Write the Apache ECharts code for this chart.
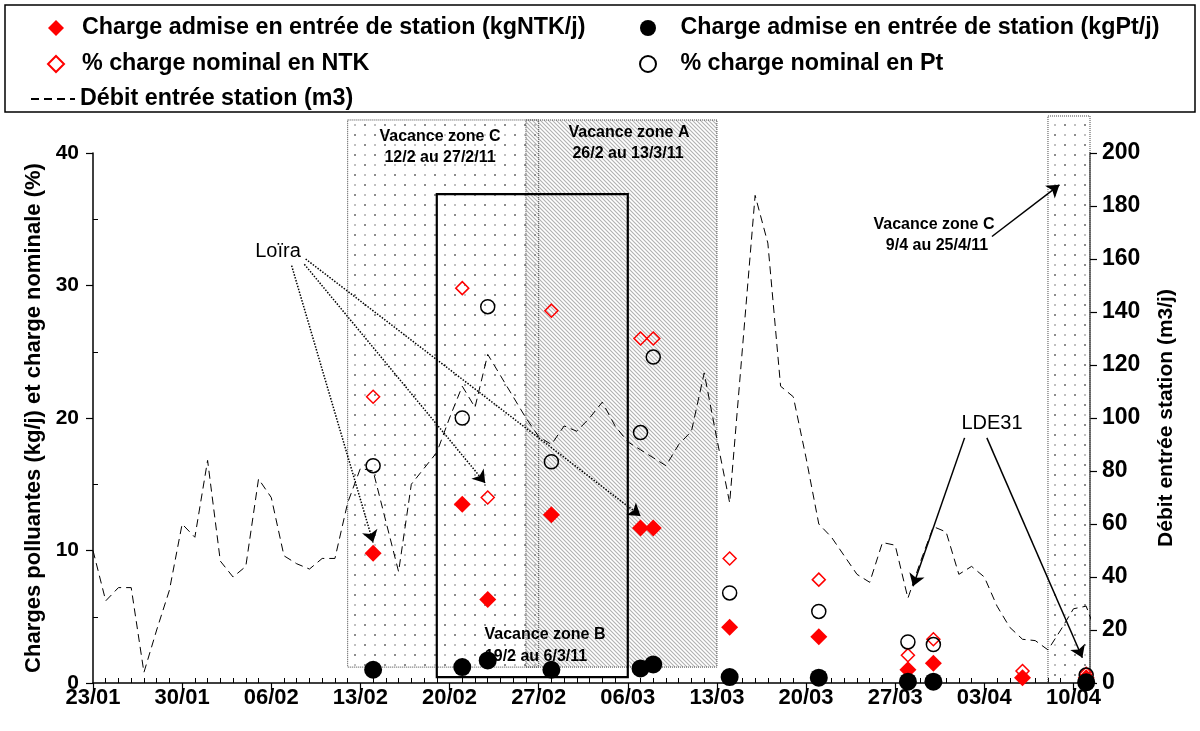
<!DOCTYPE html>
<html>
<head>
<meta charset="utf-8">
<script src="https://cdn.jsdelivr.net/npm/echarts@6/dist/echarts.min.js"></script>
<style>html,body{margin:0;padding:0;background:#fff}#c{width:1200px;height:731px}</style>
</head>
<body>
<div id="c"></div>
<script>
// Days counted from 23/01/2011 (day 0)
const tickLabels = ['23/01','30/01','06/02','13/02','20/02','27/02','06/03','13/03','20/03','27/03','03/04','10/04'];

const ntkDays = [22, 29, 31, 36, 43, 44, 50, 57, 64, 66, 73, 78];
const ntkKg   = [9.8, 13.5, 6.3, 12.7, 11.7, 11.7, 4.2, 3.5, 1.0, 1.5, 0.4, 0.4];
const ntkPct  = [21.6, 29.8, 14.0, 28.1, 26.0, 26.0, 9.4, 7.8, 2.1, 3.3, 0.9, 0.7];

const ptDays = [22, 29, 31, 36, 43, 44, 50, 57, 64, 66, 78];
const ptKg   = [1.0, 1.2, 1.7, 1.0, 1.1, 1.4, 0.45, 0.4, 0.1, 0.1, 0.05];
const ptPct  = [16.4, 20.0, 28.4, 16.7, 18.9, 24.6, 6.8, 5.4, 3.1, 2.9, 0.6];

// Débit entrée station (m3/j), one value per day from day 0
const debit = [50, 31, 36, 36, 4, 20, 35, 60, 55, 84,
               46, 40, 44, 77, 70, 48, 45, 43, 47, 47,
               68, 81, 80, 61, 42, 75, 81, 87, 100, 112,
               104, 124, 116, 108, 100, 93, 90, 97, 95, 100,
               106, 97, 91, 88, 85, 82, 90, 95, 117, 92,
               68, 126, 184, 166, 112, 108, 85, 60, 55, 48,
               41, 38, 53, 52, 32, 46, 59, 57, 41, 44,
               40, 29, 21, 16.5, 16, 12.5, 20, 28, 29, 16];

// Holiday periods [startDay, endDay, bottomValue, topValue] (left axis units)
const zoneC1 = [20, 35, 1.2, 42.5];
const zoneA  = [34, 49, 1.2, 42.5];
const zoneB  = [27, 42, 0.45, 36.9];
const zoneC2 = [75, 78.3, 0, 42.8];

const FONT = 'Liberation Sans, Arial, sans-serif';
const RED = '#ff0000';
const N1 = 'Charge admise en entrée de station (kgNTK/j)';
const N2 = '% charge nominal en NTK';
const N3 = 'Charge admise en entrée de station (kgPt/j)';
const N4 = '% charge nominal en Pt';
const N5 = 'Débit entrée station (m3)';

function dotPattern() {
  const c = document.createElement('canvas'); c.width = 20; c.height = 20;
  const g = c.getContext('2d');
  g.fillStyle = '#8c8c8c'; g.fillRect(4, 4, 2, 2); g.fillRect(14, 14, 2, 2);
  g.fillStyle = '#c0c0c0'; g.fillRect(14, 4, 2, 2); g.fillRect(4, 14, 2, 2);
  return c;
}
function hatchPattern() {
  const c = document.createElement('canvas'); c.width = 4; c.height = 4;
  const g = c.getContext('2d');
  g.strokeStyle = 'rgba(150,150,150,0.75)'; g.lineWidth = 1.1;
  g.beginPath();
  g.moveTo(-1, -1); g.lineTo(5, 5);
  g.moveTo(-1, 3); g.lineTo(1, 5);
  g.moveTo(3, -1); g.lineTo(5, 1);
  g.stroke();
  return c;
}
const dots = { image: dotPattern(), repeat: 'repeat' };
const hatch = { image: hatchPattern(), repeat: 'repeat' };

function area(z, style) {
  return [{ xAxis: z[0], yAxis: z[3], itemStyle: style }, { xAxis: z[1], yAxis: z[2] }];
}
const dottedBorder = { borderColor: '#444', borderWidth: 1, borderType: 'dotted' };
const legendText = { fontSize: 23.3, fontWeight: 'bold', color: '#000', lineHeight: 24, fontFamily: FONT };

const chart = echarts.init(document.getElementById('c'), null, { renderer: 'canvas' });

chart.setOption({
  animation: false,
  textStyle: { fontFamily: FONT },
  grid: [
    { left: 93, right: 110, top: 153, bottom: 48, containLabel: false },
    { left: 93, right: 110, top: 116, bottom: 48, containLabel: false }
  ],
  legend: [
    {
      orient: 'vertical', left: 42, top: 11, itemWidth: 16, itemHeight: 16, itemGap: 12,
      textStyle: legendText, selectedMode: false, formatter: '  {name}',
      data: [N1, N2]
    },
    {
      orient: 'vertical', left: 25, top: 82, itemWidth: 44, itemHeight: 16,
      textStyle: legendText, selectedMode: false,
      data: [{ name: N5, itemStyle: { color: 'rgba(0,0,0,0)', borderWidth: 0, opacity: 0 } }]
    },
    {
      orient: 'vertical', left: 634, top: 11, itemWidth: 16, itemHeight: 16, itemGap: 12,
      textStyle: legendText, selectedMode: false, formatter: '   {name}',
      data: [N3, N4]
    }
  ],
  xAxis: [
    {
      type: 'value', gridIndex: 0, min: 0, max: 78.3, interval: 7,
      axisLine: { lineStyle: { color: '#000', width: 1.5 } },
      axisTick: { length: 7, lineStyle: { color: '#000', width: 1.2 } },
      minorTick: { show: true, splitNumber: 7, length: -5, lineStyle: { color: '#000', width: 1 } },
      splitLine: { show: false },
      axisLabel: {
        showMaxLabel: false, margin: 4, color: '#000', fontSize: 22, fontWeight: 'bold', fontFamily: FONT,
        formatter: function (v) {
          const i = Math.round(v / 7);
          return Math.abs(v - i * 7) < 1e-6 ? (tickLabels[i] || '') : '';
        }
      }
    },
    { type: 'value', gridIndex: 1, min: 0, max: 78.3, show: false }
  ],
  yAxis: [
    {
      type: 'value', gridIndex: 0, min: 0, max: 40, interval: 10, position: 'left',
      name: 'Charges polluantes (kg/j) et charge nominale (%)', nameLocation: 'middle', nameGap: 48,
      nameTextStyle: { fontSize: 22, fontWeight: 'bold', color: '#000', fontFamily: FONT },
      axisLine: { show: true, lineStyle: { color: '#000', width: 1.5 } },
      axisTick: { show: true, length: 7, lineStyle: { color: '#000', width: 1.2 } },
      minorTick: { show: true, splitNumber: 2, length: -5, lineStyle: { color: '#000', width: 1 } },
      splitLine: { show: false },
      axisLabel: { margin: 14, color: '#000', fontSize: 21, fontWeight: 'bold', fontFamily: FONT }
    },
    {
      type: 'value', gridIndex: 0, min: 0, max: 200, interval: 20, position: 'right',
      name: 'Débit entrée station (m3/j)', nameLocation: 'middle', nameGap: 66, nameRotate: 90,
      nameTextStyle: { fontSize: 21, fontWeight: 'bold', color: '#000', fontFamily: FONT },
      axisLine: { show: true, lineStyle: { color: '#808080', width: 2 } },
      axisTick: { show: true, length: 7, lineStyle: { color: '#000', width: 1.2 } },
      splitLine: { show: false },
      axisLabel: { margin: 12, color: '#000', fontSize: 23, fontWeight: 'bold', fontFamily: FONT }
    },
    { type: 'value', gridIndex: 1, min: 0, max: 42.8, show: false }
  ],
  series: [
    {
      name: N5, type: 'line', xAxisIndex: 0, yAxisIndex: 1, z: 2,
      symbol: 'none', showSymbol: false,
      lineStyle: { color: '#000', width: 1, type: [8, 5] },
      itemStyle: { color: '#000' },
      data: debit.map((v, i) => [i, v])
    },
    {
      name: N1, type: 'scatter', z: 3,
      symbol: 'diamond', symbolSize: 17, itemStyle: { color: RED, opacity: 1 },
      data: ntkDays.map((d, i) => [d, ntkKg[i]])
    },
    {
      name: N2, type: 'scatter', z: 3,
      symbol: 'diamond', symbolSize: 13,
      itemStyle: { color: 'rgba(255,255,255,0)', borderColor: RED, borderWidth: 1.5, opacity: 1 },
      data: ntkDays.map((d, i) => [d, ntkPct[i]])
    },
    {
      name: N3, type: 'scatter', z: 3,
      symbol: 'circle', symbolSize: 18, itemStyle: { color: '#000', opacity: 1 },
      data: ptDays.map((d, i) => [d, ptKg[i]])
    },
    {
      name: N4, type: 'scatter', z: 3,
      symbol: 'circle', symbolSize: 14,
      itemStyle: { color: 'rgba(255,255,255,0)', borderColor: '#000', borderWidth: 1.5, opacity: 1 },
      data: ptDays.map((d, i) => [d, ptPct[i]])
    },
    {
      name: 'zones', type: 'scatter', xAxisIndex: 1, yAxisIndex: 2, z: 4, clip: false, silent: true, data: [],
      markArea: {
        silent: true,
        label: { show: false },
        data: [
          area(zoneC1, Object.assign({ color: dots }, dottedBorder)),
          area(zoneA, Object.assign({ color: hatch }, dottedBorder)),
          area(zoneC2, Object.assign({ color: dots }, dottedBorder)),
          area(zoneB, { color: 'rgba(0,0,0,0)', borderColor: '#000', borderWidth: 2.2 })
        ]
      }
    },
    {
      name: 'arrows', type: 'scatter', z: 6, clip: false, silent: true, data: [],
      markLine: {
        silent: true, symbol: ['none', 'arrow'], symbolSize: 12,
        label: { show: false },
        lineStyle: { color: '#000', width: 1.5 },
        itemStyle: { color: '#000' },
        data: [
          [{ coord: [15.6, 31.5], lineStyle: { type: 'dotted', width: 1.5, color: '#000' } }, { coord: [22.0, 10.6] }],
          [{ coord: [16.6, 31.6], lineStyle: { type: 'dotted', width: 1.5, color: '#000' } }, { coord: [30.8, 15.1] }],
          [{ coord: [16.7, 32.0], lineStyle: { type: 'dotted', width: 1.5, color: '#000' } }, { coord: [43.0, 12.6] }],
          [{ coord: [68.45, 18.5], lineStyle: { type: 'solid', width: 1.5, color: '#000' } }, { coord: [64.4, 7.3] }],
          [{ coord: [70.2, 18.5], lineStyle: { type: 'solid', width: 1.5, color: '#000' } }, { coord: [77.7, 1.9] }],
          [{ coord: [70.6, 33.7], lineStyle: { type: 'solid', width: 1.5, color: '#000' } }, { coord: [75.9, 37.6] }]
        ]
      }
    }
  ],
  graphic: [
    { type: 'rect', z: 0, shape: { x: 5, y: 5, width: 1190, height: 107 },
      style: { fill: 'none', stroke: '#000', lineWidth: 1.5 } },
    { type: 'text', z: 10, x: 440, y: 137, style: { text: 'Vacance zone C', font: 'bold 16px ' + FONT, fill: '#000', align: 'center', verticalAlign: 'middle' } },
    { type: 'text', z: 10, x: 440, y: 158, style: { text: '12/2 au 27/2/11', font: 'bold 16px ' + FONT, fill: '#000', align: 'center', verticalAlign: 'middle' } },
    { type: 'text', z: 10, x: 629, y: 133, style: { text: 'Vacance zone A', font: 'bold 16px ' + FONT, fill: '#000', align: 'center', verticalAlign: 'middle' } },
    { type: 'text', z: 10, x: 628, y: 154, style: { text: '26/2 au 13/3/11', font: 'bold 16px ' + FONT, fill: '#000', align: 'center', verticalAlign: 'middle' } },
    { type: 'text', z: 10, x: 545, y: 635, style: { text: 'Vacance zone B', font: 'bold 16px ' + FONT, fill: '#000', align: 'center', verticalAlign: 'middle' } },
    { type: 'text', z: 10, x: 536, y: 657, style: { text: '19/2 au 6/3/11', font: 'bold 16px ' + FONT, fill: '#000', align: 'center', verticalAlign: 'middle' } },
    { type: 'text', z: 10, x: 934, y: 225, style: { text: 'Vacance zone C', font: 'bold 16px ' + FONT, fill: '#000', align: 'center', verticalAlign: 'middle' } },
    { type: 'text', z: 10, x: 937, y: 246, style: { text: '9/4 au 25/4/11', font: 'bold 16px ' + FONT, fill: '#000', align: 'center', verticalAlign: 'middle' } },
    { type: 'text', z: 10, x: 278, y: 251, style: { text: 'Loïra', font: '20px ' + FONT, fill: '#000', align: 'center', verticalAlign: 'middle' } },
    { type: 'text', z: 10, x: 992, y: 423, style: { text: 'LDE31', font: '20px ' + FONT, fill: '#000', align: 'center', verticalAlign: 'middle' } }
  ]
});
</script>
</body>
</html>
